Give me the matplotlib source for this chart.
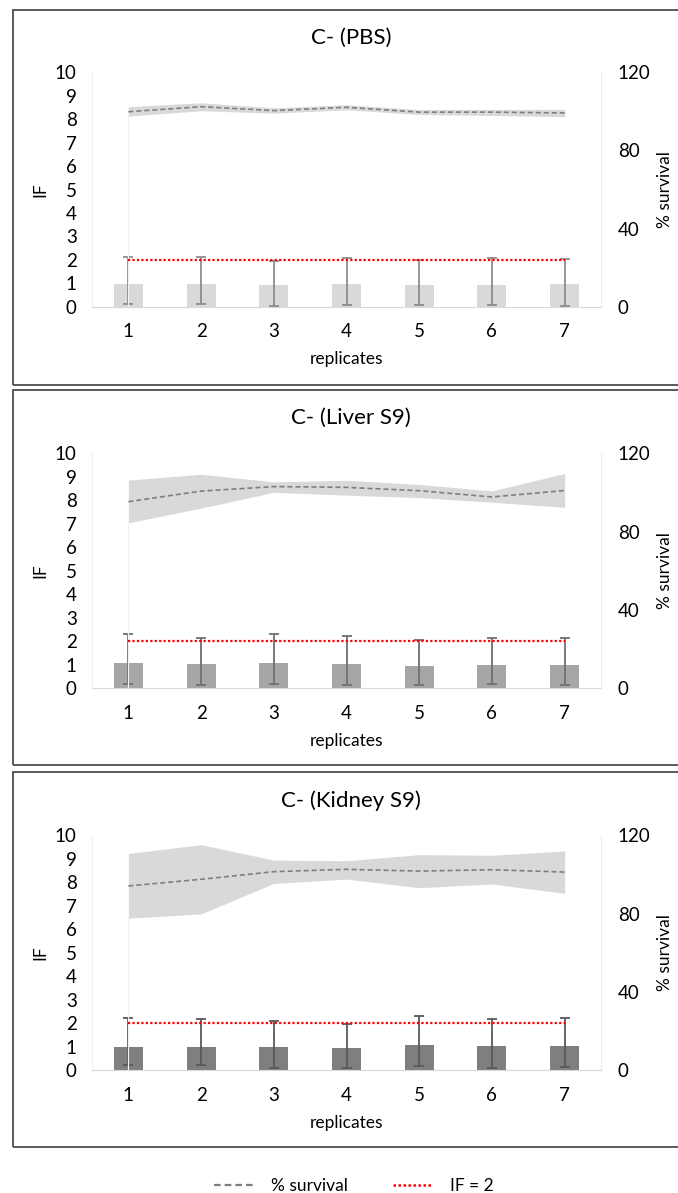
import matplotlib.pyplot as plt
from matplotlib.patches import Rectangle
from matplotlib.lines import Line2D

plt.rcParams['font.family'] = ['Lato', 'DejaVu Sans']

replicates = [1, 2, 3, 4, 5, 6, 7]
titles = ["C- (PBS)", "C- (Liver S9)", "C- (Kidney S9)"]
bar_colors = ["#d9d9d9", "#a6a6a6", "#7f7f7f"]
err_colors = ["#8c8c8c", "#707070", "#595959"]

# IF values (bars) and error bar ends
if_pbs = [0.97, 0.98, 0.92, 0.97, 0.94, 0.94, 0.97]
if_pbs_hi = [2.11, 2.12, 1.96, 2.08, 2.00, 2.06, 2.05]
if_pbs_lo = [0.10, 0.10, 0.04, 0.07, 0.06, 0.08, 0.03]

if_liver = [1.09, 1.02, 1.09, 1.05, 0.95, 0.99, 1.00]
if_liver_hi = [2.31, 2.16, 2.33, 2.21, 2.04, 2.13, 2.13]
if_liver_lo = [0.17, 0.14, 0.18, 0.16, 0.14, 0.18, 0.13]

if_kidney = [0.99, 0.97, 0.98, 0.94, 1.07, 1.02, 1.04]
if_kidney_hi = [2.20, 2.16, 2.07, 1.97, 2.30, 2.16, 2.23]
if_kidney_lo = [0.20, 0.20, 0.10, 0.07, 0.16, 0.10, 0.11]

# % survival: mean and band limits
surv_pbs = [99.8, 102.4, 100.4, 102.1, 99.6, 99.6, 99.2]
surv_pbs_up = [102.4, 104.4, 101.8, 103.4, 100.9, 101.0, 101.0]
surv_pbs_low = [97.6, 100.3, 99.1, 100.8, 98.4, 97.9, 97.3]

surv_liver = [95.3, 100.7, 103.0, 102.6, 100.9, 97.7, 101.0]
surv_liver_up = [106.3, 109.3, 105.4, 106.2, 104.1, 100.8, 109.7]
surv_liver_low = [84.5, 92.0, 100.1, 98.6, 97.4, 95.0, 92.4]

surv_kidney = [94.1, 97.5, 101.4, 102.6, 101.7, 102.4, 101.2]
surv_kidney_up = [110.7, 115.2, 107.3, 107.0, 110.1, 109.8, 112.0]
surv_kidney_low = [77.6, 79.8, 95.4, 97.6, 93.2, 95.1, 90.3]

if_threshold = 2

panels = [
    (if_pbs, if_pbs_lo, if_pbs_hi, surv_pbs, surv_pbs_low, surv_pbs_up),
    (if_liver, if_liver_lo, if_liver_hi, surv_liver, surv_liver_low, surv_liver_up),
    (if_kidney, if_kidney_lo, if_kidney_hi, surv_kidney, surv_kidney_low, surv_kidney_up),
]

W, H = 678, 1193
fig = plt.figure(figsize=(W / 100, H / 100), dpi=100)

# pixel layout of each panel: frame top/bottom, plot top/bottom, title y
frames = [(10, 385), (390, 765), (772, 1147)]
plot_tb = [(72.3, 306.7), (453.3, 688.3), (835.3, 1070)]
title_y = [38, 418, 801]
plot_left, plot_right = 92, 601

for i, (vals, lo, hi, surv, s_low, s_up) in enumerate(panels):
    ft, fb = frames[i]
    fig.add_artist(Rectangle((13 / W, 1 - fb / H), (W - 10) / W, (fb - ft) / H,
                             transform=fig.transFigure, fill=False,
                             edgecolor="#4d4d4d", linewidth=1.3))
    fig.text(351 / W, 1 - title_y[i] / H, titles[i], ha="center", va="center",
             fontsize=16, color="#000000")

    pt, pb = plot_tb[i]
    ax = fig.add_axes([plot_left / W, 1 - pb / H, (plot_right - plot_left) / W, (pb - pt) / H])
    yerr = [[v - l for v, l in zip(vals, lo)], [h - v for v, h in zip(vals, hi)]]
    ax.bar(replicates, vals, width=0.4, color=bar_colors[i], zorder=2)
    ax.errorbar(replicates, vals, yerr=yerr, fmt="none", ecolor=err_colors[i],
                elinewidth=1.3, capsize=3.5, capthick=1.3, zorder=3)
    ax.set_xlim(0.5, 7.5)
    ax.set_ylim(0, 10)
    ax.set_yticks(range(0, 11))
    ax.set_xticks(replicates)
    ax.tick_params(length=0, labelsize=13.5, pad=11)
    ax.tick_params(axis="x", pad=12)
    ax.spines["top"].set_visible(False)
    ax.spines["bottom"].set_color("#d9d9d9")
    ax.spines["left"].set_color("#f0f0f0")
    ax.spines["right"].set_color("#eeeeee")
    ax.set_xlabel("replicates", fontsize=12.5, labelpad=8)
    ax.set_ylabel("IF", fontsize=12.5, labelpad=5)

    ax2 = ax.twinx()
    ax2.set_ylim(0, 120)
    ax2.set_yticks([0, 40, 80, 120])
    ax2.tick_params(length=0, labelsize=13.5, pad=12)
    for s in ["top", "left", "bottom", "right"]:
        ax2.spines[s].set_visible(False)
    ax2.fill_between(replicates, s_low, s_up, color="#d9d9d9", linewidth=0, zorder=1)
    ax2.vlines(replicates[0], 0, s_low[0], color="#f2f2f2", linewidth=0.8, zorder=0)
    ax2.plot(replicates, surv, color="#7f7f7f", linewidth=1.2, linestyle=(0, (3, 1.8)), zorder=2)
    ax2.set_ylabel("% survival", fontsize=12.5, labelpad=5)

    # IF = 2 threshold drawn on top
    ax3 = ax.twinx()
    ax3.set_ylim(0, 10)
    ax3.axis("off")
    ax3.plot(replicates, [if_threshold] * len(replicates), color="#ff0000",
             linewidth=1.6, linestyle=(0, (1, 1)))

handles = [
    Line2D([], [], color="#7f7f7f", linewidth=1.6, linestyle=(0, (3, 1.8))),
    Line2D([], [], color="#ff0000", linewidth=1.8, linestyle=(0, (1, 1))),
]
fig.legend(handles, ["% survival", "IF = 2"], loc="center", bbox_to_anchor=(354 / W, 1 - 1186 / H),
           ncol=2, frameon=False, fontsize=12.5, handlelength=2.3, columnspacing=2.6, handletextpad=1.0)

fig.savefig("out.png", dpi=100)
